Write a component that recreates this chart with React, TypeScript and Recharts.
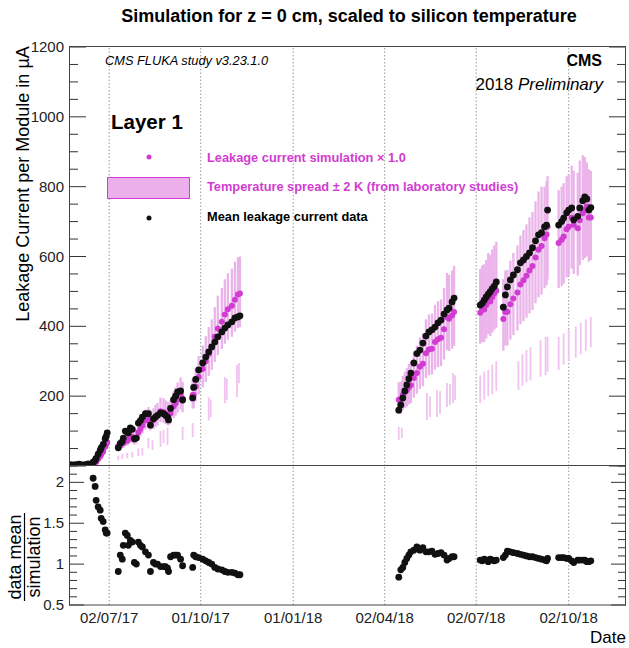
import { ComposedChart, Scatter, XAxis, YAxis, ErrorBar, ReferenceLine } from 'recharts';

const FONT = "'Liberation Sans', Arial, Helvetica, sans-serif";

// days counted from 02/07/2017
const days = [
  -39, -36, -33, -30, -27, -24, -21, -18, -16, -14, -13, -11, -9, -8, -6, -4, -3, -2,
  9, 11, 13, 14, 16, 18, 19, 21, 23, 25, 27, 29, 31, 33, 36, 39, 41, 44, 46, 48, 51, 54, 56, 58, 59, 61, 64, 66, 68, 71, 73,
  83, 84, 86, 89, 93, 96, 99, 102, 105, 108, 112, 115, 118, 122, 125, 128, 130,
  288, 290, 292, 294, 296, 298, 300, 303, 306, 309, 312, 315, 318, 321, 324, 327, 330, 333, 336, 338, 341, 343,
  369, 371, 373, 375, 377, 379, 381, 383, 385,
  392, 394, 396, 399, 402, 406, 409, 412, 415, 418, 421, 424, 427, 430, 433, 435, 436,
  447, 450, 452, 455, 457, 460, 462, 466, 468, 471, 473, 475, 477, 479,
];

const dataMean = [
  4, 3, 4, 5, 3, 4, 6, 5, 11, 16, 22, 34, 45, 52, 62, 78, 85, 95,
  52, 65, 70, 80, 100, 97, 95, 109, 105, 78, 80, 123, 130, 140, 150, 150, 117, 135, 140, 145, 152, 150, 145, 140, 132, 165, 190, 200, 212, 215, 189,
  195, 225, 248, 275, 295, 312, 327, 341, 355, 370, 384, 395, 404, 413, 424, 427, 430,
  160, 175, 195, 215, 232, 250, 266, 295, 322, 332, 352, 372, 384, 390, 398, 410, 418, 435, 447, 452, 470, 481,
  461, 466, 475, 484, 492, 499, 508, 515, 527,
  455, 490, 513, 533, 547, 562, 582, 590, 600, 610, 625, 645, 662, 668, 685, 690, 733,
  690, 700, 710, 725, 733, 739, 705, 715, 739, 760, 771, 765, 733, 740,
];

const simulation = [
  2, 2, 2, 3, 3, 3, 4, 4, 5, 8, 12, 20, 27, 33, 41, 55, 62, 69,
  57, 59, 66, 65, 72, 72, 77, 84, 83, 76, 80, 97, 106, 116, 130, 135, 128, 132, 140, 145, 157, 155, 150, 147, 145, 151, 171, 180, 191, 203, 193,
  203, 203, 228, 255, 278, 300, 321, 341, 370, 394, 413, 434, 449, 459, 476, 491, 494,
  190, 190, 203, 211, 217, 225, 231, 252, 266, 284, 293, 323, 334, 336, 355, 363, 367, 392, 426, 422, 431, 441,
  439, 448, 448, 461, 478, 471, 484, 495, 502,
  421, 441, 442, 463, 480, 497, 520, 532, 545, 560, 573, 597, 619, 630, 652, 663, 685,
  639, 648, 657, 678, 685, 711, 691, 681, 704, 724, 734, 743, 712, 712,
];

// data mean / simulation (null = above the plotted range)
const ratio: (number | null)[] = [
  null, null, null, null, null, null, null, null, 2.05, 1.95, 1.78, 1.7, 1.66, 1.56, 1.52, 1.42, 1.38, 1.38,
  0.91, 1.11, 1.06, 1.23, 1.38, 1.35, 1.23, 1.29, 1.27, 1.02, 1.0, 1.27, 1.23, 1.21, 1.15, 1.11, 0.91, 1.02, 1.0, 1.0, 0.97, 0.97, 0.97, 0.95, 0.91, 1.09, 1.11, 1.11, 1.11, 1.06, 0.98,
  0.96, 1.11, 1.09, 1.08, 1.06, 1.04, 1.02, 1.0, 0.96, 0.94, 0.93, 0.91, 0.9, 0.9, 0.89, 0.87, 0.87,
  0.84, 0.93, 0.96, 1.02, 1.07, 1.11, 1.15, 1.17, 1.21, 1.17, 1.2, 1.15, 1.15, 1.16, 1.12, 1.13, 1.14, 1.11, 1.05, 1.07, 1.09, 1.09,
  1.05, 1.04, 1.06, 1.05, 1.03, 1.06, 1.05, 1.04, 1.05,
  1.08, 1.11, 1.16, 1.15, 1.14, 1.13, 1.12, 1.11, 1.1, 1.09, 1.09, 1.08, 1.07, 1.06, 1.05, 1.04, 1.07,
  1.08, 1.08, 1.08, 1.07, 1.07, 1.04, 1.02, 1.05, 1.05, 1.05, 1.05, 1.03, 1.03, 1.04,
];

// temperature spread +-2 K
const spreadLow = [
  1, 1, 1, 2, 2, 2, 3, 3, 4, 6, 10, 16, 22, 26, 33, 44, 50, 55,
  46, 48, 53, 52, 58, 58, 62, 67, 66, 61, 64, 78, 85, 93, 104, 108, 102, 106, 112, 116, 126, 124, 120, 118, 116, 121, 137, 144, 153, 162, 154,
  165, 165, 185, 205, 225, 240, 258, 275, 298, 318, 335, 350, 362, 370, 385, 395, 398,
  150, 150, 160, 166, 170, 176, 180, 196, 207, 221, 228, 252, 260, 262, 276, 283, 286, 305, 332, 329, 336, 344,
  350, 355, 355, 365, 378, 372, 382, 390, 396,
  330, 345, 345, 362, 375, 388, 406, 415, 425, 437, 447, 466, 483, 491, 509, 517, 534,
  510, 515, 522, 540, 545, 565, 550, 545, 575, 590, 595, 600, 585, 590,
];
const spreadHigh = [
  3, 3, 3, 4, 4, 4, 5, 5, 7, 10, 16, 26, 35, 43, 54, 72, 81, 90,
  70, 73, 82, 81, 90, 90, 96, 105, 104, 95, 100, 121, 132, 145, 162, 169, 160, 165, 175, 181, 196, 194, 188, 184, 181, 189, 214, 225, 239, 254, 241,
  250, 250, 280, 315, 345, 372, 398, 420, 455, 488, 510, 535, 552, 565, 585, 598, 600,
  240, 242, 258, 270, 280, 292, 300, 328, 345, 368, 380, 420, 434, 437, 462, 472, 477, 510, 553, 548, 560, 573,
  565, 575, 578, 590, 610, 605, 620, 632, 642,
  535, 560, 562, 588, 610, 632, 660, 676, 692, 712, 728, 758, 786, 800, 800, 815, 830,
  790, 800, 810, 830, 835, 860, 845, 840, 875, 890, 885, 870, 850, 845,
];

// faint lower spread bars
const ghostDays = [
  9, 13, 18, 23, 29, 33, 39, 43, 51, 54, 58, 73,
  83, 99, 101, 115, 117, 127, 129,
  288, 291, 316, 319, 326, 329, 336, 339, 342, 344,
  369, 373, 377, 381, 385,
  407, 411, 415, 419, 429, 434, 436,
  447, 452, 457, 464, 469, 474, 479,
];
const ghostLow = [
  17, 20, 22, 25, 28, 30, 50, 46, 55, 66, 60, 75,
  83, 130, 140, 180, 190, 197, 237,
  75, 80, 132, 140, 140, 150, 169, 175, 180, 190,
  180, 190, 200, 205, 215,
  218, 230, 240, 245, 255, 260, 270,
  275, 290, 300, 310, 320, 330, 340,
];
const ghostHigh = [
  30, 35, 37, 40, 50, 52, 80, 75, 100, 103, 110, 112,
  123, 197, 190, 255, 250, 290, 295,
  112, 110, 209, 200, 218, 215, 238, 235, 266, 260,
  260, 270, 275, 290, 300,
  300, 320, 332, 340, 360, 370, 370,
  370, 380, 390, 400, 410, 420, 427,
];

const dateTicks = [0, 91, 183, 274, 365, 457];
const dateLabels = ['02/07/17', '01/10/17', '01/01/18', '02/04/18', '02/07/18', '02/10/18'];
const currentLabels = [200, 400, 600, 800, 1000, 1200];
const ratioLabels = [0.5, 1, 1.5, 2];

const X_DOMAIN: [number, number] = [-40, 514];
const PLOT_LEFT = 69;
const PLOT_RIGHT = 626;

const currentTicks = Array.from({ length: 25 }, (_, i) => i * 50);
const ratioTicks = Array.from({ length: 18 }, (_, i) => Math.round((0.5 + i * 0.1) * 10) / 10);

const dataPoints = days.map((d, i) => ({ x: d, y: dataMean[i] }));
const simPoints = days.map((d, i) => ({ x: d, y: simulation[i] }));
const spreadPoints = days.map((d, i) => ({
  x: d,
  y: simulation[i],
  err: [simulation[i] - spreadLow[i], spreadHigh[i] - simulation[i]],
}));
const ghostPoints = ghostDays.map((d, i) => ({
  x: d,
  y: (ghostLow[i] + ghostHigh[i]) / 2,
  err: (ghostHigh[i] - ghostLow[i]) / 2,
}));
const ratioPoints = days
  .map((d, i) => ({ x: d, y: ratio[i] }))
  .filter((p) => p.y !== null);

const dot = (fill: string, r: number) => (p: any) => <circle cx={p.cx} cy={p.cy} r={r} fill={fill} />;
const noDot = () => <g />;

const yTick = (majors: number[], labels: number[], majorLen: number, minorLen: number) => (p: any) => {
  const v = p.payload.value;
  const isMajor = majors.some((m) => Math.abs(m - v) < 1e-6);
  const hasLabel = labels.some((m) => Math.abs(m - v) < 1e-6);
  const len = isMajor ? majorLen : minorLen;
  return (
    <g>
      <line x1={PLOT_LEFT} x2={PLOT_LEFT + len} y1={p.y} y2={p.y} stroke="#333" />
      <line x1={PLOT_RIGHT - len} x2={PLOT_RIGHT} y1={p.y} y2={p.y} stroke="#333" />
      {hasLabel && (
        <text x={PLOT_LEFT - 5} y={p.y + 5} textAnchor="end" fontSize={15} fontFamily={FONT} fill="#222">
          {String(v)}
        </text>
      )}
    </g>
  );
};

const xTick = (p: any) => {
  const i = dateTicks.indexOf(p.payload.value);
  return (
    <text x={p.x} y={p.y + 16} textAnchor="middle" fontSize={15} fontFamily={FONT} fill="#222">
      {dateLabels[i]}
    </text>
  );
};

const gridLines = dateTicks.map((t) => (
  <ReferenceLine key={t} x={t} stroke="#999" strokeDasharray="1.5 2" />
));

export default function App() {
  return (
    <div style={{ position: 'absolute', left: 0, top: 0, width: 629, height: 648, background: '#fff' }}>
      <div style={{ position: 'absolute', left: 0, top: 0 }}>
        <ComposedChart width={629} height={470} margin={{ top: 47, right: 3, bottom: 4, left: 19 }}>
          <XAxis type="number" dataKey="x" domain={X_DOMAIN} allowDataOverflow hide />
          <YAxis
            type="number"
            dataKey="y"
            width={50}
            domain={[0, 1200]}
            allowDataOverflow
            ticks={currentTicks}
            interval={0}
            tickSize={0}
            tickLine={false}
            axisLine={false}
            tick={yTick([0, ...currentLabels], currentLabels, 17, 9)}
          />
          {gridLines}
          <Scatter data={ghostPoints} shape={noDot} isAnimationActive={false}>
            <ErrorBar dataKey="err" direction="y" width={0} stroke="#efc4ef" strokeWidth={1.8} isAnimationActive={false} />
          </Scatter>
          <Scatter data={spreadPoints} shape={noDot} isAnimationActive={false}>
            <ErrorBar dataKey="err" direction="y" width={0} stroke="#eab4ea" strokeWidth={2.3} isAnimationActive={false} />
          </Scatter>
          <Scatter data={simPoints} shape={dot('#d23cd2', 3)} isAnimationActive={false} />
          <Scatter data={dataPoints} shape={dot('#111', 3.4)} isAnimationActive={false} />
        </ComposedChart>
      </div>
      <div style={{ position: 'absolute', left: 0, top: 440 }}>
        <ComposedChart width={629} height={208} margin={{ top: 26, right: 3, bottom: 18, left: 19 }}>
          <XAxis
            type="number"
            dataKey="x"
            domain={X_DOMAIN}
            allowDataOverflow
            ticks={dateTicks}
            interval={0}
            height={25}
            tickSize={0}
            tickLine={false}
            axisLine={false}
            tick={xTick}
          />
          <YAxis
            type="number"
            dataKey="y"
            width={50}
            domain={[0.5, 2.2]}
            allowDataOverflow
            ticks={ratioTicks}
            interval={0}
            tickSize={0}
            tickLine={false}
            axisLine={false}
            tick={yTick(ratioLabels, ratioLabels, 15, 8)}
          />
          {gridLines}
          <Scatter data={ratioPoints} shape={dot('#111', 3.4)} isAnimationActive={false} />
        </ComposedChart>
      </div>
      <svg width={629} height={648} style={{ position: 'absolute', left: 0, top: 0, pointerEvents: 'none' }} fontFamily={FONT}>
        <rect x={69.5} y={46.5} width={556} height={419} fill="none" stroke="#444" />
        <rect x={69.5} y={465.5} width={556} height={139.5} fill="none" stroke="#444" />
        <text x={349} y={22} textAnchor="middle" fontSize={18} fontWeight="bold" fill="#000">
          Simulation for z = 0 cm, scaled to silicon temperature
        </text>
        <text transform="translate(29,184) rotate(-90)" textAnchor="middle" fontSize={18} fill="#000">
          Leakage Current per Module in µA
        </text>
        <text transform="translate(21,557) rotate(-90)" textAnchor="middle" fontSize={18} fill="#000">
          data mean
        </text>
        <line x1={24.5} x2={24.5} y1={513} y2={601} stroke="#000" strokeWidth={1.2} />
        <text transform="translate(40,557) rotate(-90)" textAnchor="middle" fontSize={18} fill="#000">
          simulation
        </text>
        <text x={105} y={65} fontSize={12.8} fontStyle="italic" fill="#000">
          CMS FLUKA study v3.23.1.0
        </text>
        <text x={602} y={66} textAnchor="end" fontSize={16} fontWeight="bold" fill="#000">
          CMS
        </text>
        <text x={603} y={90} textAnchor="end" fontSize={17} fill="#000">
          2018 <tspan fontStyle="italic">Preliminary</tspan>
        </text>
        <text x={111} y={129} fontSize={20.5} fontWeight="bold" fill="#000">
          Layer 1
        </text>
        <circle cx={149} cy={157} r={2.5} fill="#d23cd2" />
        <text x={207} y={162} fontSize={12.8} fontWeight="bold" fill="#d23cd2">
          Leakage current simulation × 1.0
        </text>
        <rect x={107.5} y={177.5} width={82} height={21} fill="#ebb0eb" stroke="#d23cd2" />
        <text x={207} y={191} fontSize={12.8} fontWeight="bold" fill="#d23cd2">
          Temperature spread ± 2 K (from laboratory studies)
        </text>
        <circle cx={149} cy={218} r={2.5} fill="#111" />
        <text x={207} y={221} fontSize={12.8} fontWeight="bold" fill="#000">
          Mean leakage current data
        </text>
        <text x={626} y={643} textAnchor="end" fontSize={17} fill="#000">
          Date
        </text>
      </svg>
    </div>
  );
}
